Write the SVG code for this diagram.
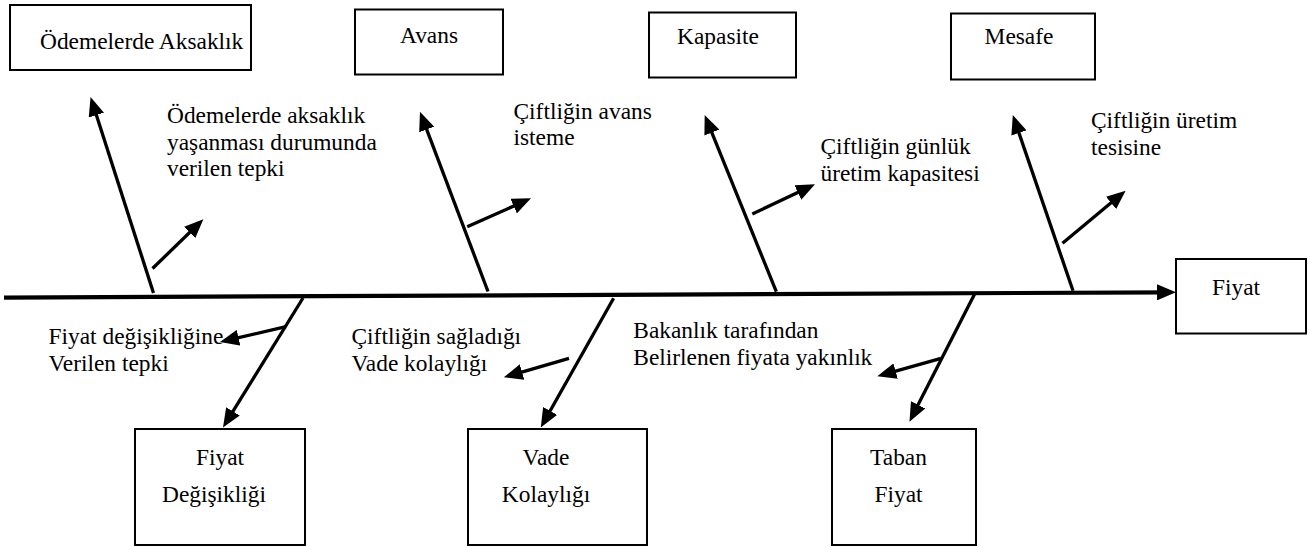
<svg xmlns="http://www.w3.org/2000/svg" width="1310" height="547" viewBox="0 0 1310 547">
<style>
.box{fill:#fff;stroke:#000;stroke-width:2}
.t{font-family:'Liberation Serif','Tinos','Times New Roman','DejaVu Serif',serif;font-size:23.4px;fill:#000}
.m{text-anchor:middle}
.bone{fill:none;stroke:#000;stroke-width:3.3;marker-end:url(#ah)}
.spine{fill:none;stroke:#000;stroke-width:4.2;marker-end:url(#ah)}
</style>
<defs>
<marker id="ah" viewBox="0 0 19 16" markerWidth="19" markerHeight="16" markerUnits="userSpaceOnUse" refX="11" refY="8" orient="auto">
<path d="M0,0 L19,8 L0,16 z" fill="#000"/>
</marker>
</defs>
<rect width="1310" height="547" fill="#fff"/>
<g id="connectors">
<path class="spine" d="M4,297.6 L1168,292.3"/>
<path class="bone" d="M153.5,293 L93,104.6"/>
<path class="bone" d="M152.5,268.5 L197.6,224.8"/>
<path class="bone" d="M488,291.5 L422.8,119.2"/>
<path class="bone" d="M467.2,226.7 L523.7,201.6"/>
<path class="bone" d="M776.3,291.7 L707.7,122.4"/>
<path class="bone" d="M752.3,214 L807.8,187.7"/>
<path class="bone" d="M1073,290.7 L1015.4,122.6"/>
<path class="bone" d="M1062.5,243.3 L1119.5,195.8"/>
<path class="bone" d="M303,298 L227.2,420.7"/>
<path class="bone" d="M286,326.7 L227.8,340.2"/>
<path class="bone" d="M613.6,298.3 L544.7,420.5"/>
<path class="bone" d="M569,358.3 L511.5,375.1"/>
<path class="bone" d="M975,293.3 L913.1,414.6"/>
<path class="bone" d="M941,358.3 L885,374.1"/>
</g>
<g id="odemelerde-aksaklik">
<rect class="box" x="10" y="5" width="241" height="65"/>
<text class="t" x="40" y="48.5">Ödemelerde Aksaklık</text>
</g>
<g id="avans">
<rect class="box" x="355" y="9.5" width="148" height="65"/>
<text class="t m" x="429" y="43">Avans</text>
</g>
<g id="kapasite">
<rect class="box" x="649" y="12.5" width="147" height="65"/>
<text class="t m" x="718" y="44">Kapasite</text>
</g>
<g id="mesafe">
<rect class="box" x="951" y="13.5" width="144" height="66"/>
<text class="t m" x="1019" y="44">Mesafe</text>
</g>
<g id="fiyat">
<rect class="box" x="1176" y="259" width="130" height="74.5"/>
<text class="t m" x="1236" y="295">Fiyat</text>
</g>
<g id="fiyat-degisikligi">
<rect class="box" x="135" y="429" width="170" height="116"/>
<text class="t m" x="220" y="465">Fiyat</text>
<text class="t m" x="214" y="502">Değişikliği</text>
</g>
<g id="vade-kolayligi">
<rect class="box" x="468" y="429" width="179" height="116"/>
<text class="t m" x="546" y="465">Vade</text>
<text class="t m" x="546" y="502">Kolaylığı</text>
</g>
<g id="taban-fiyat">
<rect class="box" x="832" y="429" width="144" height="116"/>
<text class="t m" x="898.5" y="465">Taban</text>
<text class="t m" x="898.5" y="502">Fiyat</text>
</g>
<g id="label-odemelerde">
<text class="t" x="167" y="123">Ödemelerde aksaklık</text>
<text class="t" x="167" y="149.5">yaşanması durumunda</text>
<text class="t" x="167" y="176">verilen tepki</text>
</g>
<g id="label-avans">
<text class="t" x="513.5" y="119">Çiftliğin avans</text>
<text class="t" x="513.5" y="145">isteme</text>
</g>
<g id="label-kapasite">
<text class="t" x="820.5" y="154">Çiftliğin günlük</text>
<text class="t" x="820.5" y="180.5">üretim kapasitesi</text>
</g>
<g id="label-mesafe">
<text class="t" x="1091" y="128">Çiftliğin üretim</text>
<text class="t" x="1091" y="154.5">tesisine</text>
</g>
<g id="label-fiyat-degisikligi">
<text class="t" x="48.5" y="344">Fiyat değişikliğine</text>
<text class="t" x="48.5" y="370.5">Verilen tepki</text>
</g>
<g id="label-vade">
<text class="t" x="351.5" y="344">Çiftliğin sağladığı</text>
<text class="t" x="351.5" y="370.5">Vade kolaylığı</text>
</g>
<g id="label-taban">
<text class="t" x="633.3" y="338.3">Bakanlık tarafından</text>
<text class="t" x="633.3" y="365">Belirlenen fiyata yakınlık</text>
</g>
</svg>
